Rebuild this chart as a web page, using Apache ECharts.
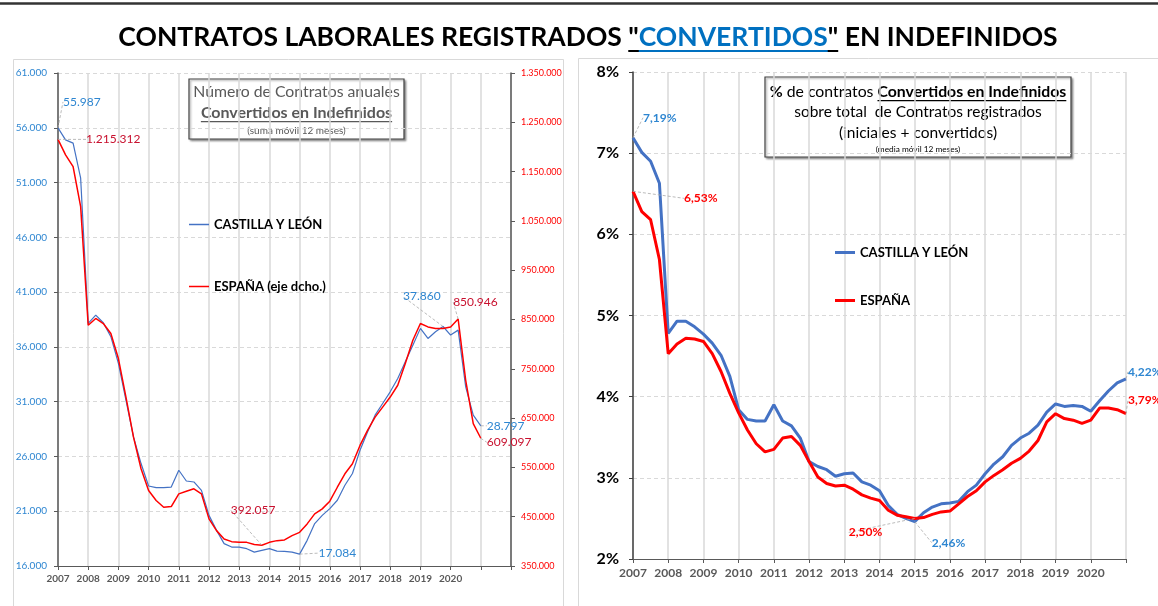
<!DOCTYPE html>
<html lang="es">
<head>
<meta charset="UTF-8">
<title>Contratos convertidos en indefinidos</title>
<style>
    html, body { margin: 0; padding: 0; background: #fff; }
    #chart { width: 1158px; height: 606px; }
</style>
</head>
<body>
<div id="chart"></div>
<script src="https://cdn.jsdelivr.net/npm/echarts@6/dist/echarts.min.js"></script>
<script>
    // etiquetas del eje X (una por año)
    var anios = [2007, 2008, 2009, 2010, 2011, 2012, 2013, 2014, 2015, 2016, 2017, 2018, 2019, 2020];

    // valores trimestrales desde ene-2007 hasta dic-2020 (suma móvil 12 meses)
    var cylNum = [
        55987, 54900, 54600, 51400,
        38150, 38900, 38200, 36930,
        34500, 31140, 27780, 25350,
        23300, 23150, 23150, 23200,
        24740, 23760, 23670, 22900,
        20620, 19250, 18040, 17730,
        17730, 17580, 17270, 17430,
        17580, 17360, 17330, 17270,
        17084, 18340, 19870, 20620,
        21240, 22000, 23370, 24440,
        26560, 28240, 29770, 30830,
        31900, 33120, 34640, 36160,
        37690, 36770, 37380, 37860,
        37080, 37530, 32350, 29770,
        28797
    ];
    var espNum = [
        1215312, 1183950, 1160200, 1078870,
        838440, 852040, 841870, 821550,
        770740, 692700, 611400, 547170,
        503070, 482750, 469120, 470540,
        496360, 501650, 506520, 496360,
        445540, 421760, 404890, 399400,
        397960, 397960, 393500, 392057,
        397960, 401440, 402800, 411600,
        418300, 435380, 455700, 465860,
        481400, 509760, 537000, 557300,
        594520, 625000, 652040, 672360,
        692700, 716650, 760570, 808000,
        841870, 835000, 831710, 831710,
        835000, 850946, 726650, 638600,
        609097
    ];
    // % convertidos sobre total de contratos (media móvil 12 meses)
    var cylPct = [
        7.19, 7.01, 6.90, 6.63,
        4.78, 4.93, 4.93, 4.86,
        4.77, 4.66, 4.51, 4.25,
        3.84, 3.72, 3.70, 3.70,
        3.90, 3.70, 3.64, 3.49,
        3.20, 3.14, 3.10, 3.02,
        3.05, 3.06, 2.95, 2.91,
        2.84, 2.66, 2.55, 2.50,
        2.46, 2.57, 2.64, 2.68,
        2.69, 2.71, 2.83, 2.91,
        3.05, 3.17, 3.26, 3.40,
        3.49, 3.55, 3.65, 3.81,
        3.91, 3.88, 3.89, 3.88,
        3.82, 3.95, 4.07, 4.17,
        4.22
    ];
    var espPct = [
        6.53, 6.28, 6.18, 5.69,
        4.53, 4.65, 4.72, 4.71,
        4.68, 4.53, 4.31, 4.04,
        3.80, 3.59, 3.42, 3.32,
        3.35, 3.49, 3.51, 3.40,
        3.20, 3.01, 2.93, 2.90,
        2.91, 2.86, 2.79, 2.75,
        2.72, 2.60, 2.54, 2.52,
        2.50, 2.51, 2.55, 2.58,
        2.59, 2.68, 2.77, 2.84,
        2.95, 3.03, 3.10, 3.18,
        3.24, 3.33, 3.46, 3.69,
        3.79, 3.73, 3.71, 3.67,
        3.71, 3.86, 3.86, 3.84,
        3.79
    ];

    var periodos = [];
    for (var i = 0; i < cylNum.length; i++) {
        periodos.push(2007 + i / 4);
    }

    var FUENTE = 'Lato, "Open Sans", sans-serif';
    var AZUL = '#4472C4', ROJO = '#FF0000';

    function fuente (peso, tam) {
        return peso + ' ' + tam + 'px ' + FUENTE;
    }

    var ctx = document.createElement('canvas').getContext('2d');
    function ancho (txt, f) {
        ctx.font = f;
        return ctx.measureText(txt).width;
    }

    function fmtNum (v) {
        return Math.round(v).toString().replace(/\B(?=(\d{3})+(?!\d))/g, '.');
    }
    function fmtPct (v) {
        return v.toFixed(2).replace('.', ',') + '%';
    }

    // serie con etiquetas en algunos puntos; marcas = {indice: [dx, dy]}
    function serie (nombre, xi, yi, valores, color, grosor, marcas, fmt, estilo) {
        var data = valores.map(function (v, i) {
            var p = [periodos[i], v];
            if (!marcas[i]) return p;
            return {value: p, label: Object.assign({show: true, formatter: fmt(v)}, estilo)};
        });
        return {
            name: nombre,
            type: 'line',
            xAxisIndex: xi,
            yAxisIndex: yi,
            data: data,
            symbol: 'circle',
            symbolSize: 0,
            showSymbol: true,
            lineStyle: {color: color, width: grosor},
            itemStyle: {color: color},
            label: {show: false, position: 'right', distance: 5},
            labelLine: {show: true, lineStyle: {color: '#AAAAAA', width: 0.8, type: [3, 2]}},
            labelLayout: function (p) {
                var m = marcas[p.dataIndex];
                return m ? {dx: m[0], dy: m[1]} : {};
            },
            emphasis: {disabled: true},
            z: 3
        };
    }

    var etqAzulN = {color: '#2E86D1', fontSize: 12, fontFamily: FUENTE};
    var etqRojoN = {color: '#C8102E', fontSize: 12, fontFamily: FUENTE};
    var etqAzulP = {color: '#2E86D1', fontSize: 12, fontWeight: 'bold', fontFamily: FUENTE};
    var etqRojoP = {color: '#FF0000', fontSize: 12, fontWeight: 'bold', fontFamily: FUENTE};

    // ---- título con subrayado ----
    var fTit = fuente('bold', 26.5);
    var partes = [
        ['CONTRATOS LABORALES REGISTRADOS ', '#000'],
        ['"', '#000'],
        ['CONVERTIDOS', '#0070C0'],
        ['"', '#000'],
        [' EN INDEFINIDOS', '#000']
    ];
    var anchos = partes.map(function (p) { return ancho(p[0], fTit); });
    var total = anchos.reduce(function (a, b) { return a + b; }, 0);
    var x0 = 588 - total / 2;
    var graficos = [
        {type: 'line', shape: {x1: 0, y1: 3.5, x2: 1158, y2: 3.5}, style: {stroke: '#333', lineWidth: 2.5}, silent: true},
        {type: 'rect', shape: {x: 13.5, y: 59.5, width: 550, height: 600}, style: {fill: 'none', stroke: '#D9D9D9', lineWidth: 1}, z: -10, silent: true},
        {type: 'rect', shape: {x: 578.5, y: 58.5, width: 600, height: 600}, style: {fill: 'none', stroke: '#D9D9D9', lineWidth: 1}, z: -10, silent: true}
    ];
    var xc = x0;
    partes.forEach(function (p, k) {
        graficos.push({type: 'text', x: xc, y: 37, style: {text: p[0], font: fTit, fill: p[1], align: 'left', verticalAlign: 'middle'}});
        xc += anchos[k];
    });
    var uIni = x0 + anchos[0];
    graficos.push({type: 'rect', shape: {x: uIni, y: 50, width: anchos[1] + anchos[2] + anchos[3], height: 2}, style: {fill: '#000'}});
    graficos.push({type: 'rect', shape: {x: uIni + anchos[1], y: 50, width: anchos[2], height: 2}, style: {fill: '#0070C0'}});

    // ---- recuadro gráfico izquierdo ----
    var fB1 = fuente('bold', 16);
    var wB1 = ancho('Convertidos en Indefinidos', fB1);
    graficos.push({
        type: 'group', x: 189, y: 79, z: 20,
        children: [
            {type: 'rect', shape: {x: 0, y: 0, width: 215, height: 60},
                style: {fill: '#fff', stroke: '#404040', lineWidth: 1.2, shadowBlur: 2, shadowOffsetX: 1.5, shadowOffsetY: 1.5, shadowColor: 'rgba(0,0,0,0.35)'}},
            {type: 'text', x: 107.5, y: 13, style: {text: 'Número de Contratos anuales', font: fuente('normal', 15.8), fill: '#595959', align: 'center', verticalAlign: 'middle'}},
            {type: 'text', x: 107.5, y: 34, style: {text: 'Convertidos en Indefinidos', font: fB1, fill: '#595959', align: 'center', verticalAlign: 'middle'}},
            {type: 'rect', shape: {x: 107.5 - wB1 / 2, y: 42, width: wB1, height: 1.3}, style: {fill: '#595959'}},
            {type: 'text', x: 107.5, y: 52, style: {text: '(suma móvil 12 meses)', font: fuente('normal', 10), fill: '#595959', align: 'center', verticalAlign: 'middle'}}
        ]
    });

    // ---- recuadro gráfico derecho ----
    var fR = fuente('normal', 15.8), fRb = fuente('bold', 15.8);
    var r1 = [['%', fRb], [' de contratos ', fR], ['Convertidos en Indefinidos', fRb]];
    var rw = r1.map(function (p) { return ancho(p[0], p[1]); });
    var rt = rw[0] + rw[1] + rw[2];
    var rx = 153 - rt / 2;
    var hijos = [
        {type: 'rect', shape: {x: 0, y: 0, width: 306, height: 80},
            style: {fill: '#fff', stroke: '#404040', lineWidth: 1.2, shadowBlur: 2, shadowOffsetX: 1.5, shadowOffsetY: 1.5, shadowColor: 'rgba(0,0,0,0.35)'}}
    ];
    r1.forEach(function (p, k) {
        hijos.push({type: 'text', x: rx, y: 15, style: {text: p[0], font: p[1], fill: '#000', align: 'left', verticalAlign: 'middle'}});
        rx += rw[k];
    });
    hijos.push({type: 'rect', shape: {x: rx - rw[2], y: 23, width: rw[2], height: 1.3}, style: {fill: '#000'}});
    hijos.push({type: 'text', x: 153, y: 35, style: {text: 'sobre total  de Contratos registrados', font: fuente('normal', 15.5), fill: '#000', align: 'center', verticalAlign: 'middle'}});
    hijos.push({type: 'text', x: 153, y: 56, style: {text: '(iniciales + convertidos)', font: fuente('normal', 15.5), fill: '#000', align: 'center', verticalAlign: 'middle'}});
    hijos.push({type: 'text', x: 153, y: 72, style: {text: '(media móvil 12 meses)', font: fuente('normal', 8.3), fill: '#000', align: 'center', verticalAlign: 'middle'}});
    graficos.push({type: 'group', x: 765, y: 77, z: 20, children: hijos});

    var ejeX = function (grid, max, tam) {
        return {
            gridIndex: grid,
            type: 'value',
            min: 2007,
            max: max,
            interval: 1,
            axisLine: {show: true, lineStyle: {color: '#595959', width: 1.2}},
            axisTick: {show: true, length: 4, lineStyle: {color: '#595959'}},
            axisLabel: {
                formatter: function (v) { return anios.indexOf(v) >= 0 ? String(v) : ''; },
                fontFamily: FUENTE, fontWeight: 'bold', fontSize: tam, color: '#595959', margin: 8
            },
            splitLine: {show: true, lineStyle: {color: '#D9D9D9', width: 1.5}}
        };
    };
    var rejilla = {show: true, lineStyle: {color: '#D9D9D9', type: [4, 3]}};

    var option = {
        animation: false,
        backgroundColor: '#fff',
        graphic: graficos,
        legend: [
            {
                data: ['CASTILLA Y LEÓN', 'ESPAÑA (eje dcho.)'],
                left: 189, top: 218, orient: 'vertical', itemGap: 49, padding: 0,
                icon: 'rect', itemWidth: 20, itemHeight: 1.5, selectedMode: false,
                textStyle: {fontFamily: FUENTE, fontWeight: 'bold', fontSize: 13, color: '#000'}
            },
            {
                data: ['CASTILLA Y LEÓN', 'ESPAÑA'],
                left: 835, top: 246, orient: 'vertical', itemGap: 35, padding: 0,
                icon: 'rect', itemWidth: 20, itemHeight: 3, selectedMode: false,
                textStyle: {fontFamily: FUENTE, fontWeight: 'bold', fontSize: 13, color: '#000'}
            }
        ],
        grid: [
            {left: 58, top: 73, width: 453, height: 493},
            {left: 633, top: 72, width: 493, height: 487}
        ],
        xAxis: [ejeX(0, 2022, 10), ejeX(1, 2021, 12)],
        yAxis: [
            {
                gridIndex: 0, type: 'value', position: 'left', min: 16000, max: 61000, interval: 5000,
                axisLine: {show: true, lineStyle: {color: '#595959', width: 1.5}},
                axisTick: {show: true, length: 4, lineStyle: {color: '#595959'}},
                axisLabel: {formatter: fmtNum, color: '#2E86D1', fontFamily: FUENTE, fontSize: 10, margin: 11},
                splitLine: rejilla
            },
            {
                gridIndex: 0, type: 'value', position: 'right', min: 350000, max: 1350000, interval: 100000,
                axisLine: {show: true, lineStyle: {color: '#595959', width: 1.5}},
                axisTick: {show: true, length: 4, lineStyle: {color: '#595959'}},
                axisLabel: {formatter: fmtNum, color: '#FF0000', fontFamily: FUENTE, fontSize: 9, margin: 10},
                splitLine: {show: false}
            },
            {
                gridIndex: 1, type: 'value', min: 2, max: 8, interval: 1,
                axisLine: {show: true, lineStyle: {color: '#404040', width: 1.5}},
                axisTick: {show: true, length: 4, lineStyle: {color: '#404040'}},
                axisLabel: {formatter: function (v) { return v + '%'; }, color: '#000', fontFamily: FUENTE, fontWeight: 'bold', fontSize: 16, margin: 14},
                splitLine: rejilla
            }
        ],
        series: [
            serie('CASTILLA Y LEÓN', 0, 0, cylNum, AZUL, 1.2,
                {0: [0, -26], 32: [14, -1], 51: [-45, -30], 56: [1, 0]}, fmtNum, etqAzulN),
            serie('ESPAÑA (eje dcho.)', 0, 1, espNum, ROJO, 1.5,
                {0: [23, 0], 27: [-36, -35], 53: [-10, -17], 56: [1, 4]}, fmtNum, etqRojoN),
            serie('CASTILLA Y LEÓN', 1, 2, cylPct, AZUL, 3,
                {0: [5, -20], 32: [12, 21], 56: [-3, -7]}, fmtPct, etqAzulP),
            serie('ESPAÑA', 1, 2, espPct, ROJO, 3,
                {0: [46, 7], 32: [-71, 14], 56: [-3, -14]}, fmtPct, etqRojoP)
        ]
    };

    var chart = echarts.init(document.getElementById('chart'));
    chart.setOption(option);
</script>
</body>
</html>
